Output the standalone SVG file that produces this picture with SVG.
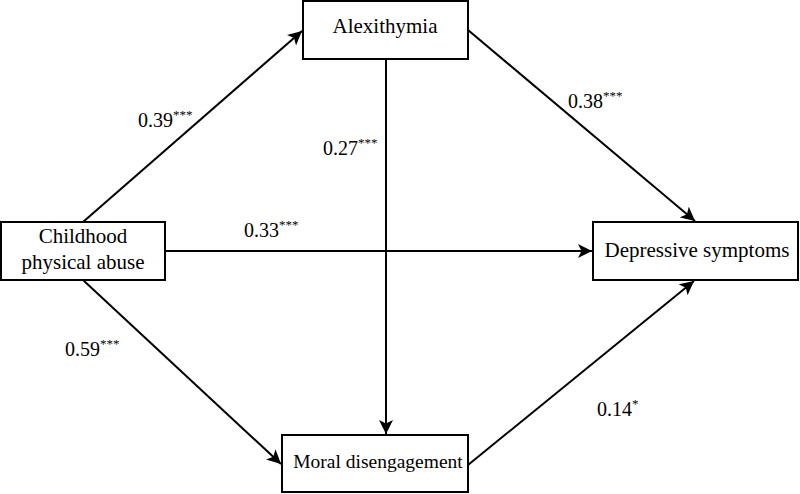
<svg xmlns="http://www.w3.org/2000/svg" width="800" height="494" viewBox="0 0 800 494">
<style>
text{font-family:"Times New Roman","Liberation Serif",Tinos,serif}
.box{fill:#fff;stroke:#000;stroke-width:2}
.t{font-size:21px;fill:#000;text-anchor:middle}
.l{font-size:20px;fill:#000}
.s{font-size:13px}
.c{stroke:#000;stroke-width:2;fill:none;marker-end:url(#ah)}
</style>
<defs>
<marker id="ah" viewBox="0 0 10 10" refX="10" refY="5" markerWidth="7" markerHeight="7" orient="auto" markerUnits="strokeWidth">
<path d="M0,0 L10,5 L0,10 L2.5,5 z" fill="#000"/>
</marker>
</defs>
<g id="connectors">
<line class="c" x1="83" y1="222" x2="302" y2="31"/>
<line class="c" x1="468" y1="30" x2="695" y2="221"/>
<line class="c" x1="165" y1="251" x2="592" y2="251"/>
<line class="c" x1="386" y1="59" x2="386" y2="434"/>
<line class="c" x1="83" y1="280" x2="281" y2="464"/>
<line class="c" x1="468" y1="465" x2="694" y2="281"/>
</g>
<g id="labels">
<text class="l" x="138" y="127">0.39<tspan class="s" dy="-8">***</tspan></text>
<text class="l" x="323" y="155">0.27<tspan class="s" dy="-8">***</tspan></text>
<text class="l" x="568" y="108">0.38<tspan class="s" dy="-8">***</tspan></text>
<text class="l" x="244" y="237">0.33<tspan class="s" dy="-8">***</tspan></text>
<text class="l" x="65" y="356">0.59<tspan class="s" dy="-8">***</tspan></text>
<text class="l" x="597" y="416">0.14<tspan class="s" dy="-8">*</tspan></text>
</g>
<g id="alexithymia">
<rect class="box" x="303" y="1" width="165" height="58"/>
<text class="t" x="385" y="33">Alexithymia</text>
</g>
<g id="childhood">
<rect class="box" x="1" y="222" width="164" height="58"/>
<text class="t" x="83" y="243">Childhood</text>
<text class="t" x="83" y="269">physical abuse</text>
</g>
<g id="depressive">
<rect class="box" x="593" y="222" width="205" height="58"/>
<text class="t" x="697" y="257">Depressive symptoms</text>
</g>
<g id="moral">
<rect class="box" x="282" y="435" width="186" height="57"/>
<text class="t" x="378" y="468" style="font-size:19.5px">Moral disengagement</text>
</g>
</svg>
